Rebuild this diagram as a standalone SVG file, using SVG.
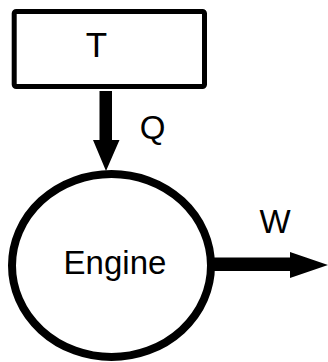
<svg xmlns="http://www.w3.org/2000/svg" width="328" height="362" viewBox="0 0 328 362">
<style>
text{font-family:"Liberation Sans",Arial,sans-serif;fill:#000;text-anchor:middle}
.shape{fill:#fff;stroke:#000}
.arrow{fill:#000;stroke:none}
</style>
<rect width="328" height="362" fill="#fff"/>
<g id="node-T">
<rect class="shape" x="14.2" y="11.5" width="190.3" height="75" rx="2" stroke-width="5"/>
<text x="96.5" y="57" font-size="35">T</text>
</g>
<g id="node-engine">
<ellipse class="shape" cx="111.5" cy="265.5" rx="99.5" ry="91.5" stroke-width="8"/>
<text x="115" y="274" font-size="33">Engine</text>
</g>
<g id="connectors">
<path class="arrow" d="M99.5,91 H112 V140 H119.5 L106,171 L93,140 H99.5 Z"/>
<text x="152.5" y="139" font-size="33">Q</text>
<path class="arrow" d="M213,257.5 H290 V252 L328,265 L290,278 V271 H213 Z"/>
<text x="275" y="233" font-size="33">W</text>
</g>
</svg>
